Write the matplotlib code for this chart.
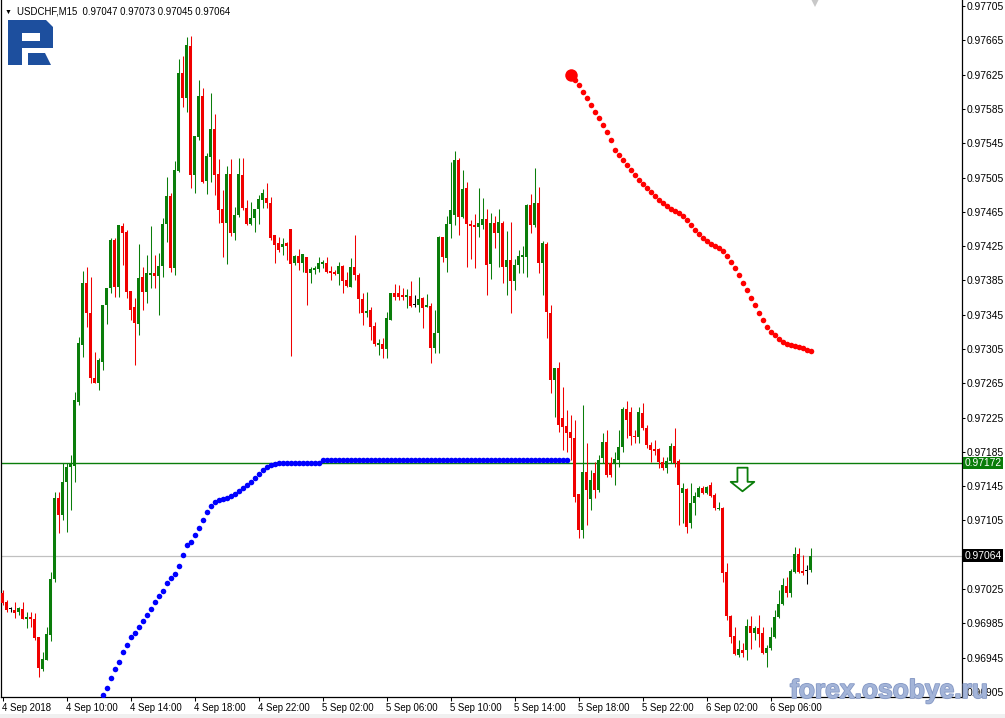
import numpy as np
import matplotlib
matplotlib.use("Agg")
import matplotlib.pyplot as plt
import matplotlib.transforms as mtransforms
import matplotlib.patheffects as pe
from matplotlib.path import Path
from matplotlib.patches import PathPatch, Rectangle

plt.rcParams['font.family'] = ['Liberation Sans', 'DejaVu Sans']

symbol = "USDCHF,M15"

# prices in points (1e-5), bar 0 = 4 Sep 06:00, M15
opens = [
    97020, 97010, 97002, 97001, 96998, 97002, 96990, 96992, 96990, 96969,
    96932, 96942, 96971, 97037, 97131, 97111, 97150, 97167, 97169, 97243,
    97310, 97382, 97347, 97271, 97265, 97290, 97356, 97376, 97432, 97377,
    97448, 97441, 97373, 97354, 97334, 97389, 97371, 97391, 97394, 97390,
    97402, 97451, 97483, 97399, 97513, 97627, 97598, 97658, 97508, 97552,
    97600, 97501, 97529, 97562, 97509, 97468, 97452, 97509, 97440, 97461,
    97508, 97469, 97451, 97458, 97468, 97479, 97481, 97475, 97438, 97429,
    97424, 97429, 97445, 97405, 97413, 97405, 97412, 97394, 97397, 97398,
    97404, 97405, 97396, 97395, 97392, 97402, 97385, 97377, 97401, 97391,
    97363, 97347, 97350, 97332, 97310, 97311, 97305, 97339, 97370, 97370,
    97368, 97366, 97367, 97357, 97356, 97364, 97354, 97355, 97306, 97324,
    97436, 97411, 97451, 97461, 97525, 97459, 97493, 97451, 97450, 97447,
    97450, 97457, 97404, 97452, 97440, 97452, 97401, 97409, 97384, 97403,
    97412, 97412, 97473, 97450, 97475, 97405, 97427, 97347, 97269, 97283,
    97225, 97215, 97208, 97201, 97136, 97094, 97162, 97130, 97160, 97141,
    97178, 97196, 97172, 97171, 97176, 97191, 97235, 97232, 97204, 97202,
    97230, 97213, 97193, 97188, 97188, 97173, 97166, 97174, 97192, 97174,
    97137, 97142, 97102, 97125, 97132, 97143, 97137, 97146, 97135, 97118,
    97120, 97045, 96994, 96970, 96948, 96954, 96954, 96982, 96974, 96980,
    96974, 96950, 96956, 96969, 96992, 97008, 97029, 97020, 97045, 97066,
    97046, 97047, 97047,
]
highs = [
    97024, 97012, 97004, 97010, 97004, 97010, 96998, 96998, 96997, 96969,
    96952, 96981, 97045, 97138, 97138, 97172, 97172, 97181, 97255, 97319,
    97396, 97401, 97389, 97301, 97294, 97356, 97376, 97434, 97434, 97450,
    97452, 97444, 97373, 97364, 97427, 97401, 97415, 97448, 97415, 97417,
    97458, 97506, 97487, 97524, 97643, 97647, 97669, 97670, 97553, 97619,
    97609, 97534, 97604, 97579, 97527, 97490, 97518, 97527, 97471, 97528,
    97528, 97479, 97476, 97468, 97485, 97492, 97499, 97482, 97438, 97436,
    97434, 97430, 97445, 97415, 97422, 97416, 97412, 97401, 97402, 97412,
    97409, 97412, 97402, 97397, 97406, 97403, 97395, 97411, 97438, 97394,
    97370, 97371, 97354, 97336, 97317, 97318, 97348, 97370, 97381, 97380,
    97376, 97375, 97384, 97368, 97389, 97366, 97369, 97359, 97350, 97437,
    97436, 97460, 97523, 97536, 97528, 97514, 97500, 97455, 97462, 97493,
    97481, 97468, 97464, 97460, 97468, 97454, 97443, 97453, 97410, 97420,
    97425, 97474, 97486, 97516, 97494, 97431, 97430, 97356, 97283, 97290,
    97261, 97234, 97228, 97222, 97136, 97240, 97195, 97164, 97173, 97181,
    97207, 97211, 97179, 97185, 97211, 97237, 97244, 97237, 97211, 97237,
    97242, 97216, 97196, 97199, 97190, 97179, 97179, 97195, 97213, 97177,
    97149, 97143, 97149, 97138, 97145, 97145, 97145, 97150, 97137, 97127,
    97121, 97055, 96995, 96981, 96966, 96962, 96990, 96994, 96982, 96995,
    96981, 96960, 96981, 97001, 97024, 97038, 97039, 97048, 97074, 97073,
    97065, 97053, 97073,
]
lows = [
    97006, 96998, 96998, 96991, 96995, 96990, 96980, 96981, 96966, 96922,
    96929, 96942, 96964, 97033, 97090, 97106, 97092, 97117, 97150, 97240,
    97296, 97331, 97265, 97265, 97257, 97280, 97334, 97370, 97366, 97366,
    97403, 97364, 97339, 97286, 97321, 97350, 97359, 97376, 97376, 97345,
    97389, 97430, 97395, 97391, 97511, 97587, 97581, 97493, 97487, 97549,
    97499, 97486, 97500, 97485, 97452, 97412, 97404, 97437, 97432, 97459,
    97467, 97450, 97450, 97441, 97451, 97469, 97469, 97432, 97405, 97418,
    97415, 97409, 97297, 97403, 97397, 97395, 97356, 97382, 97392, 97395,
    97399, 97394, 97385, 97391, 97380, 97370, 97377, 97377, 97385, 97347,
    97333, 97342, 97315, 97308, 97298, 97294, 97294, 97339, 97362, 97362,
    97362, 97353, 97354, 97354, 97348, 97329, 97354, 97289, 97300, 97300,
    97406, 97395, 97434, 97450, 97438, 97458, 97401, 97410, 97399, 97436,
    97445, 97368, 97387, 97423, 97401, 97382, 97368, 97347, 97374, 97394,
    97394, 97389, 97440, 97447, 97394, 97368, 97318, 97254, 97226, 97208,
    97187, 97185, 97176, 97127, 97085, 97085, 97100, 97117, 97131, 97138,
    97172, 97156, 97156, 97146, 97167, 97185, 97201, 97193, 97195, 97195,
    97211, 97190, 97173, 97181, 97166, 97164, 97160, 97172, 97167, 97100,
    97102, 97090, 97096, 97111, 97132, 97136, 97136, 97132, 97117, 97117,
    97033, 96989, 96962, 96948, 96946, 96946, 96942, 96955, 96966, 96957,
    96949, 96934, 96954, 96968, 96991, 97006, 97016, 97016, 97044, 97044,
    97041, 97031, 97045,
]
closes = [
    97009, 97001, 97002, 96997, 97003, 96990, 96992, 96990, 96968, 96933,
    96943, 96973, 97037, 97131, 97111, 97150, 97167, 97172, 97246, 97312,
    97382, 97347, 97271, 97265, 97292, 97356, 97376, 97432, 97377, 97450,
    97440, 97371, 97350, 97335, 97388, 97371, 97394, 97394, 97390, 97402,
    97451, 97483, 97399, 97514, 97627, 97598, 97660, 97508, 97553, 97600,
    97500, 97530, 97562, 97508, 97467, 97452, 97509, 97440, 97461, 97509,
    97469, 97451, 97458, 97468, 97480, 97487, 97475, 97434, 97426, 97420,
    97427, 97425, 97404, 97413, 97405, 97416, 97394, 97398, 97399, 97405,
    97406, 97395, 97394, 97392, 97402, 97384, 97378, 97401, 97391, 97363,
    97347, 97349, 97331, 97311, 97312, 97305, 97341, 97370, 97366, 97366,
    97366, 97368, 97355, 97357, 97363, 97353, 97356, 97306, 97324, 97436,
    97412, 97451, 97467, 97525, 97459, 97492, 97451, 97448, 97447, 97452,
    97457, 97403, 97452, 97440, 97453, 97401, 97409, 97384, 97403, 97413,
    97415, 97473, 97450, 97475, 97405, 97429, 97348, 97269, 97283, 97216,
    97214, 97207, 97201, 97132, 97094, 97162, 97141, 97152, 97141, 97176,
    97196, 97158, 97158, 97177, 97191, 97235, 97222, 97204, 97202, 97232,
    97213, 97193, 97187, 97186, 97173, 97166, 97174, 97192, 97172, 97146,
    97143, 97097, 97125, 97134, 97143, 97137, 97144, 97134, 97120, 97120,
    97044, 96994, 96969, 96949, 96955, 96950, 96982, 96974, 96980, 96973,
    96950, 96956, 96969, 96992, 97008, 97030, 97020, 97046, 97066, 97045,
    97044, 97047, 97064,
]

# indicator dots (points), blue from bar 25, red from bar 142
blue_start = 25
blue_dots = [
    96902, 96910, 96921, 96932, 96940, 96952, 96960, 96969, 96974, 96981,
    96988, 96995, 97002, 97010, 97017, 97023, 97032, 97038, 97043, 97052,
    97065, 97076, 97080, 97088, 97096, 97106, 97115, 97122, 97127, 97129,
    97130, 97131, 97134, 97136, 97139, 97143, 97146, 97150, 97155, 97159,
    97164, 97167, 97170, 97171, 97172, 97172, 97172, 97172, 97172, 97172,
    97172, 97172, 97172, 97172, 97172, 97176, 97176, 97176, 97176, 97176,
    97176, 97176, 97176, 97176, 97176, 97176, 97176, 97176, 97176, 97176,
    97176, 97176, 97176, 97176, 97176, 97176, 97176, 97176, 97176, 97176,
    97176, 97176, 97176, 97176, 97176, 97176, 97176, 97176, 97176, 97176,
    97176, 97176, 97176, 97176, 97176, 97176, 97176, 97176, 97176, 97176,
    97176, 97176, 97176, 97176, 97176, 97176, 97176, 97176, 97176, 97176,
    97176, 97176, 97176, 97176, 97176, 97176, 97176,
]
red_start = 142
red_dots = [
    97625, 97619, 97613, 97605, 97598, 97590, 97581, 97574, 97566, 97558,
    97549, 97537, 97531, 97525, 97520, 97514, 97508, 97502, 97497, 97493,
    97488, 97483, 97479, 97475, 97472, 97468, 97466, 97464, 97460, 97455,
    97450, 97444, 97439, 97434, 97431, 97427, 97425, 97423, 97419, 97413,
    97406, 97399, 97391, 97382, 97374, 97364, 97356, 97347, 97339, 97331,
    97325, 97321, 97317, 97313, 97311, 97310, 97308, 97307, 97306, 97304,
    97303,
]

level_price = 0.97172
bid_price = 0.97064
arrow_bar = 184.75
arrow_price = 0.97153

xtick_labels = ["4 Sep 2018", "4 Sep 10:00", "4 Sep 14:00", "4 Sep 18:00",
                "4 Sep 22:00", "5 Sep 02:00", "5 Sep 06:00", "5 Sep 10:00",
                "5 Sep 14:00", "5 Sep 18:00", "5 Sep 22:00", "6 Sep 02:00",
                "6 Sep 06:00"]

o = np.array(opens) / 1e5
h = np.array(highs) / 1e5
l = np.array(lows) / 1e5
c = np.array(closes) / 1e5
n = len(c)
idx = np.arange(n)

GREEN = '#0a7d0a'
RED = '#f00000'
FS = 7.4
FSX = 6.9

W, H = 1005, 718
fig = plt.figure(figsize=(W / 100, H / 100), dpi=100)
ax = fig.add_axes([1 / W, 1 - 696.5 / H, (962 - 1) / W, 696.5 / H])

# candles
cols = np.where(c > o, GREEN, np.where(c < o, RED, 'black'))
ax.vlines(idx, l, h, colors=cols, linewidth=0.75, zorder=3)
lo = np.minimum(o, c)
bh = np.abs(c - o)
flat = bh < 0.5e-5
lo = np.where(flat, o - 0.45e-5, lo)
bh = np.where(flat, 0.9e-5, bh)
ax.bar(idx, bh, bottom=lo, width=0.74, color=cols, linewidth=0, zorder=3)

# indicator dots
bx = np.arange(blue_start, blue_start + len(blue_dots))
ax.plot(bx, np.array(blue_dots) / 1e5, 'o', color='#0000ff', ms=4.0, mew=0, zorder=4)
rx = np.arange(red_start, red_start + len(red_dots))
ax.plot(rx, np.array(red_dots) / 1e5, 'o', color='#ff0000', ms=4.0, mew=0, zorder=4)
ax.plot(rx[0], red_dots[0] / 1e5, 'o', color='#ff0000', ms=9, mew=0, zorder=4)

# horizontal lines
ax.axhline(level_price, color=GREEN, lw=1.0, zorder=2)
ax.axhline(bid_price, color='#c0c0c0', lw=0.9, zorder=1)

# hollow down arrow object
arrow = Path([(-0.43, 1), (0.43, 1), (0.43, -0.2), (1, -0.2), (0, -1),
              (-1, -0.2), (-0.43, -0.2), (-0.43, 1)],
             [Path.MOVETO] + [Path.LINETO] * 6 + [Path.CLOSEPOLY])
ax.plot(arrow_bar, arrow_price, marker=arrow, ms=17, mfc='white', mec=GREEN,
        mew=1.3, zorder=5)

# chart shift marker
ax.plot(n, 0.996, marker='v', ms=6, color='#c8c8c8', mew=0,
        transform=mtransforms.blended_transform_factory(ax.transData, ax.transAxes),
        clip_on=False, zorder=5)

ax.set_xlim(-0.375, 239.875)
ax.set_ylim(0.9689975, 0.977120)

yt = np.round(np.arange(0.96905, 0.97706, 0.0004), 5)
ax.yaxis.tick_right()
ax.set_yticks(yt)
# the scale label hidden under the bid box is left blank
ax.set_yticklabels(["" if abs(v - bid_price) < 5e-5 else f"{v:.5f}" for v in yt])
ax.set_xticks(np.arange(0, n, 16))
ax.set_xticklabels(xtick_labels, ha='left')
ax.tick_params(axis='both', direction='out', width=0.75, colors='black')
ax.tick_params(axis='y', length=2.4, pad=1.2, labelsize=FS)
ax.tick_params(axis='x', length=3.0, pad=1.5, labelsize=FSX)
ax.spines['top'].set_visible(False)
for s in ('left', 'right', 'bottom'):
    ax.spines[s].set_linewidth(0.9)

# price labels on the scale
trans = mtransforms.blended_transform_factory(ax.transAxes, ax.transData)
for price, fc in ((level_price, GREEN), (bid_price, 'black')):
    ax.annotate(f"{price:.5f}", xy=(1, price), xycoords=trans, xytext=(1.6, 0),
                textcoords='offset points', ha='left', va='center', color='white',
                fontsize=FS, annotation_clip=False,
                bbox=dict(boxstyle='square,pad=0.12', fc=fc, ec='none'))

# header
fig.text(5 / W, 1 - 14 / H, "\u25bc", fontsize=5, va='baseline', color='black')
fig.text(17 / W, 1 - 14 / H,
         f"{symbol}  {o[-1]:.5f} {h[-1]:.5f} {l[-1]:.5f} {c[-1]:.5f}",
         fontsize=FSX, va='baseline', color='black')


# logo
def px(x, y):
    return (x / W, 1 - y / H)


logo_blue = '#1d4f9e'
bowl = Path([px(8, 20), px(46, 20), px(53, 27), px(53, 48), px(8, 48), px(8, 20),
             px(22, 33), px(22, 41), px(40, 41), px(40, 33), px(22, 33)],
            [Path.MOVETO] + [Path.LINETO] * 4 + [Path.CLOSEPOLY]
            + [Path.MOVETO] + [Path.LINETO] * 3 + [Path.CLOSEPOLY])
fig.add_artist(PathPatch(bowl, transform=fig.transFigure, fc=logo_blue, ec='none'))
fig.add_artist(Rectangle(px(8, 65), 14 / W, 17 / H, transform=fig.transFigure,
                         fc=logo_blue, ec='none'))
leg = Path([px(28, 53), px(45, 53), px(51, 65), px(28, 65), px(28, 53)],
           [Path.MOVETO] + [Path.LINETO] * 3 + [Path.CLOSEPOLY])
fig.add_artist(PathPatch(leg, transform=fig.transFigure, fc=logo_blue, ec='none'))

# watermark
fig.text(790 / W, 1 - 691 / H, "forex.osobye.ru", fontsize=19, fontweight='bold',
         color='#a3b4d8', va='center', ha='left', zorder=10,
         path_effects=[pe.withStroke(linewidth=1.2, foreground='#8598c4')])

# bottom strip
fig.add_artist(Rectangle((0, 0), 1, 4 / H, transform=fig.transFigure,
                         fc='#f0f0f0', ec='none'))

fig.savefig("out.png", dpi=100)
